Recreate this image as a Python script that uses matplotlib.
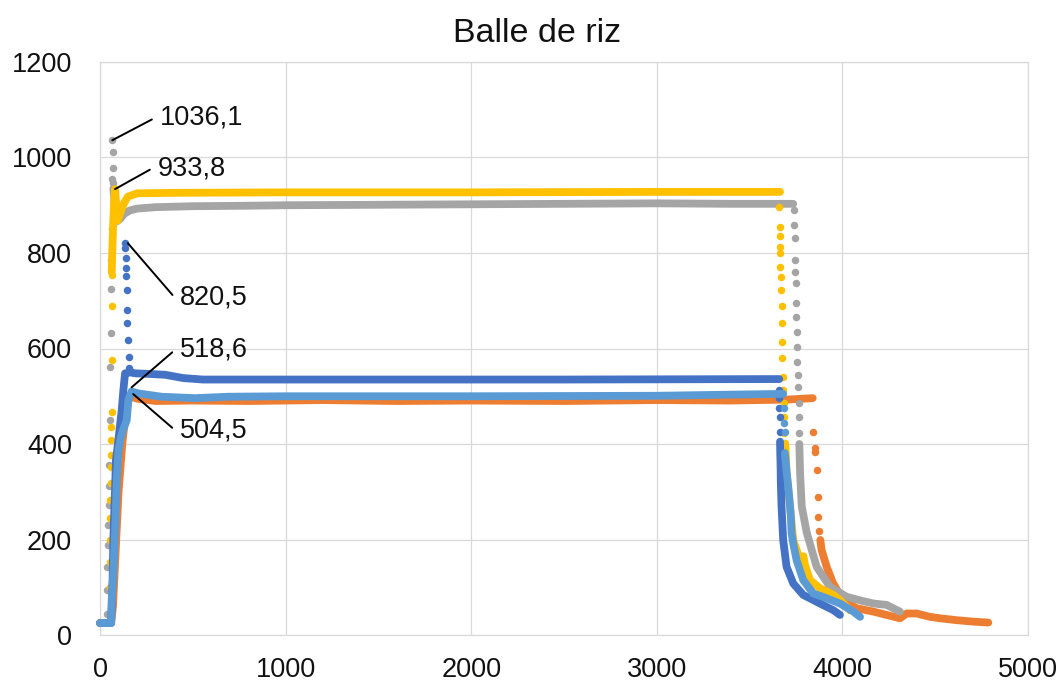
import matplotlib
matplotlib.use("Agg")
import matplotlib.pyplot as plt

plt.rcParams["font.family"] = ["Liberation Sans", "DejaVu Sans"]

# Palette Excel
C_ORANGE = "#ED7D31"
C_GRAY = "#A5A5A5"
C_YELLOW = "#FFC000"
C_BLUE = "#4472C4"
C_LBLUE = "#5B9BD5"

# ── Données ──────────────────────────────────────────────────────────────────
# Orange
orange_x = [0, 60, 70, 85, 100, 120, 140, 160, 200, 300, 500, 800, 1200, 1600,
            2000, 2500, 3000, 3400, 3700, 3840]
orange_y = [25, 25, 60, 180, 300, 400, 470, 500, 495, 490, 491, 490, 492, 490,
            491, 490, 492, 491, 493, 496]
orange_dots_x = [3843, 3852, 3855, 3863, 3866, 3870, 3876]
orange_dots_y = [426, 391, 384, 346, 290, 248, 218]
orange_tail_x = [3881, 3888, 3915, 3949, 4003, 4077, 4167, 4310, 4346, 4400,
                 4472, 4526, 4616, 4705, 4786]
orange_tail_y = [199, 178, 143, 109, 73, 56, 49, 35, 45, 45, 38, 35, 31, 28, 26]

# Gris
gray_x = [0, 45]
gray_y = [25, 25]
gray_dots_x = [36, 38, 40, 42, 44, 46, 48, 50, 53, 55, 57, 58, 60, 62, 64, 66,
               70, 72, 70]
gray_dots_y = [45, 94, 143, 188, 230, 272, 311, 356, 450, 562, 632, 725, 785,
               850, 954, 1036.1, 1012, 977, 946]
gray_plateau_x = [72, 80, 90, 110, 130, 160, 200, 300, 500, 800, 1000, 1500,
                  2000, 2500, 3000, 3400, 3735]
gray_plateau_y = [935, 900, 866, 872, 882, 889, 893, 896, 898, 899, 900, 901,
                  902, 903, 904, 903, 903]
gray_drop_x = [3740, 3741, 3743, 3745, 3746, 3748, 3750, 3752, 3754, 3755,
               3757, 3759, 3761, 3764, 3766, 3768]
gray_drop_y = [891, 859, 832, 786, 760, 737, 695, 667, 635, 604, 572, 544,
               520, 485, 456, 422]
gray_tail_x = [3768, 3772, 3781, 3808, 3861, 3933, 4023, 4100, 4167, 4238, 4310]
gray_tail_y = [400, 339, 269, 214, 143, 101, 80, 72, 66, 63, 49]

# Jaune
yellow_x = [0, 50]
yellow_y = [25, 25]
yellow_dots_x = [52, 53, 54, 55, 56, 57, 58, 59, 60, 61, 62, 63, 64, 64]
yellow_dots_y = [101, 153, 199, 244, 283, 318, 352, 377, 408, 436, 468, 576,
                 688, 754]
yellow_plateau_x = [63, 66, 70, 75, 81, 88, 95, 110, 130, 150, 200, 400, 1000,
                    2000, 3000, 3664]
yellow_plateau_y = [760, 800, 850, 900, 933.8, 900, 868, 885, 905, 918, 925,
                    926, 927, 927, 928, 928]
yellow_drop_x = [3660, 3662, 3663, 3664, 3665, 3666, 3668, 3670, 3672, 3674,
                 3676, 3677, 3679, 3681, 3683, 3685, 3687, 3690]
yellow_drop_y = [897, 855, 836, 813, 800, 771, 750, 723, 688, 653, 614, 580,
                 541, 513, 486, 457, 423, 392]
yellow_tail_x = [3692, 3700, 3718, 3735, 3772, 3790, 3798, 3825, 3879, 3951,
                 3987, 4023, 4040]
yellow_tail_y = [401, 339, 269, 199, 157, 165, 147, 115, 98, 84, 73, 59, 52]

# Bleu foncé
blue_x = [0, 60, 63, 68, 72, 77, 81, 86, 99, 108, 117, 126, 135, 160, 190,
          250, 350, 450, 555, 800, 1500, 2500, 3660]
blue_y = [25, 25, 60, 120, 200, 260, 304, 367, 408, 440, 471, 513, 548, 550,
          548, 547, 545, 538, 535, 535, 535, 535, 536]
blue_spike_x = [135, 137, 139, 140, 142, 144, 146, 148, 151, 154, 158, 162]
blue_spike_y = [820.5, 810, 789, 768, 751, 723, 681, 653, 618, 583, 560, 552]
blue_drop_x = [3660, 3660, 3661, 3662, 3663]
blue_drop_y = [513, 496, 475, 457, 426]
blue_tail_x = [3664, 3665, 3667, 3668, 3672, 3681, 3699, 3735, 3789, 3879,
               3951, 3987]
blue_tail_y = [405, 384, 352, 321, 269, 199, 143, 108, 84, 66, 52, 42]

# Bleu clair
lblue_x = [0, 60, 63, 72, 81, 90, 99, 110, 125, 144, 153, 170, 206, 332, 512,
           690, 1000, 2000, 3000, 3681]
lblue_y = [25, 25, 73, 129, 211, 318, 384, 410, 430, 450, 492, 510, 506, 499,
           496, 499, 500, 500, 501, 505]
lblue_drop_x = [3685, 3687, 3690]
lblue_drop_y = [475, 444, 426]
lblue_tail_x = [3690, 3700, 3708, 3718, 3723, 3726, 3735, 3753, 3789, 3843,
                3915, 3987, 4059, 4095]
lblue_tail_y = [381, 339, 311, 269, 244, 213, 192, 157, 115, 87, 77, 66, 49, 38]

# Étiquettes : (valeur x, valeur y, texte, position du texte)
labels = [
    (66, 1036.1, "1036,1", (323, 1083)),
    (81, 933.8, "933,8", (312, 978)),
    (150, 820.5, "820,5", (431, 706)),
    (170, 518.6, "518,6", (431, 597)),
    (179, 504.5, "504,5", (431, 429)),
]

LW = 5.6   # épaisseur des traces denses
MS = 5.4   # diamètre des points isolés
FS = 19.5

fig = plt.figure(figsize=(10.61, 6.82), dpi=100)
fig.patch.set_facecolor("white")
ax = fig.add_axes([100 / 1061, 1 - 635 / 682, 928 / 1061, 573 / 682])


def dense(x, y, color, z):
    ax.plot(x, y, color=color, lw=LW, solid_capstyle="round",
            solid_joinstyle="round", zorder=z, clip_on=False)


def dots(x, y, color, z):
    ax.plot(x, y, ls="none", marker="o", ms=MS, mec="none", mfc=color,
            zorder=z, clip_on=False)


# orange
dense(orange_x, orange_y, C_ORANGE, 2)
dots(orange_dots_x, orange_dots_y, C_ORANGE, 2)
dense(orange_tail_x, orange_tail_y, C_ORANGE, 2)
# gris
dense(gray_x, gray_y, C_GRAY, 3)
dots(gray_dots_x, gray_dots_y, C_GRAY, 3)
dense(gray_plateau_x, gray_plateau_y, C_GRAY, 3)
dots(gray_drop_x, gray_drop_y, C_GRAY, 3)
dense(gray_tail_x, gray_tail_y, C_GRAY, 3)
# jaune
dense(yellow_x, yellow_y, C_YELLOW, 4)
dots(yellow_dots_x, yellow_dots_y, C_YELLOW, 4)
dense(yellow_plateau_x, yellow_plateau_y, C_YELLOW, 4)
dots(yellow_drop_x, yellow_drop_y, C_YELLOW, 4)
dense(yellow_tail_x, yellow_tail_y, C_YELLOW, 4)
# bleu foncé
dense(blue_x, blue_y, C_BLUE, 5)
dots(blue_spike_x, blue_spike_y, C_BLUE, 5)
dots(blue_drop_x, blue_drop_y, C_BLUE, 5)
dense(blue_tail_x, blue_tail_y, C_BLUE, 5)
# bleu clair
dense(lblue_x, lblue_y, C_LBLUE, 6)
dots(lblue_drop_x, lblue_drop_y, C_LBLUE, 6)
dense(lblue_tail_x, lblue_tail_y, C_LBLUE, 6)

# ── Étiquettes de données avec lignes de rappel ─────────────────────────────
for vx, vy, txt, (tx, ty) in labels:
    ax.annotate(
        txt, xy=(vx, vy), xytext=(tx, ty), textcoords="data",
        ha="left", va="center", fontsize=FS, color="#111111", zorder=10,
        arrowprops=dict(arrowstyle="-", color="black", lw=1.4,
                        relpos=(0, 0.5), shrinkA=4, shrinkB=0,
                        connectionstyle="arc,angleA=180,armA=5,angleB=0,armB=0,rad=0"),
    )

# ── Axes ────────────────────────────────────────────────────────────────────
ax.set_xlim(0, 5000)
ax.set_ylim(0, 1200)
ax.set_xticks(range(0, 5001, 1000))
ax.set_yticks(range(0, 1201, 200))
ax.grid(True, color="#D9D9D9", lw=0.9)
ax.set_axisbelow(True)
for sp in ax.spines.values():
    sp.set_color("#D9D9D9")
    sp.set_linewidth(0.9)
ax.tick_params(axis="both", length=0, labelsize=FS, labelcolor="#111111")
ax.tick_params(axis="x", pad=16)
ax.tick_params(axis="y", pad=20)

fig.text(537.5 / 1061, 1 - 41.7 / 682, "Balle de riz", ha="center",
         va="baseline", fontsize=24.5, color="#111111")

fig.savefig("out.png", dpi=100, facecolor="white")
plt.close(fig)
